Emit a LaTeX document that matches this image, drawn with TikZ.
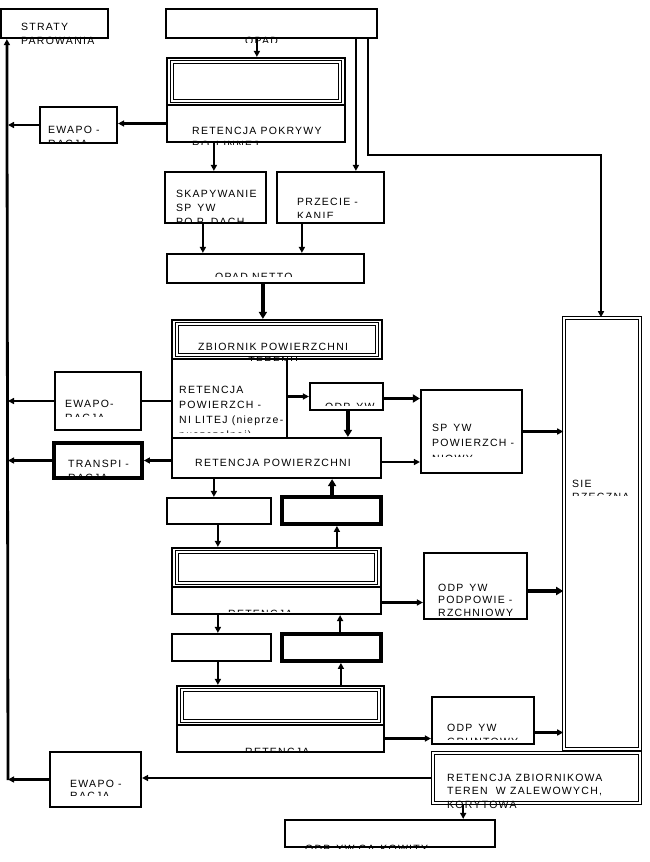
\documentclass[tikz,border=0pt]{standalone}
\usepackage{fontspec}
\setmainfont{Liberation Sans}[LetterSpace=12]
\usetikzlibrary{arrows.meta}

% text block, cut off below a given y
\newcommand\lbl[5][l]{%
  \begin{scope}
    \clip (0,0) rectangle (649,#4);
    \node[txt] (#2) at (#3) {\begin{tabular}[t]{@{}#1@{}}#5\end{tabular}};
  \end{scope}}

\begin{document}
\begin{tikzpicture}[x=1pt,y=-1pt,
    box/.style={draw, line width=2.2pt, inner sep=0pt},
    thickbox/.style={draw, line width=3.8pt, inner sep=0pt},
    dblbox/.style={draw, double, line width=1.6pt, double distance=1.5pt, inner sep=0pt},
    txt/.style={inner sep=0pt, anchor=base west, font=\fontsize{10.5}{14}\selectfont},
    arr/.style={line width=2.2pt, -{Triangle[length=6pt,width=6pt]}},
    fat/.style={line width=3.6pt, -{Triangle[length=7pt,width=8pt]}}]
\useasboundingbox (0,0) rectangle (649,862);

\foreach \nm/\xa/\ya/\xb/\yb in {strat/1/9/108/38, opad/166/9/377/38,
    pokrz/167/58/345/105, pokr/167/105/345/142, ewa1/40/107/117/143,
    skap/165/172/266/223, przec/277/172/384/223, netto/167/254/364/283,
    zbior/172/320/382/359, litej/172/359/287/438, odp1/310/383/383/410,
    splyw/421/390/522/473, retpow/172/438/381/478, ewa2/55/372/141/430,
    inf1/167/498/271/524, grz/172/548/381/587, grzr/172/587/381/614,
    odp2/424/553/527/619, inf2/172/634/271/661, gw/177/686/384/725,
    gwr/177/725/384/752, odp3/432/697/534/744, ewa3/50/752/141/807,
    total/285/820/495/847}
  \node[box, minimum width=\xb-\xa, minimum height=\yb-\ya] (\nm) at ({(\xa+\xb)/2},{(\ya+\yb)/2}) {};

\foreach \nm/\xa/\ya/\xb/\yb in {trans/54/443/142/478, kap1/282/497/381/524, kap2/282/634/381/661}
  \node[thickbox, minimum width=\xb-\xa, minimum height=\yb-\ya] (\nm) at ({(\xa+\xb)/2},{(\ya+\yb)/2}) {};

\foreach \nm/\xa/\ya/\xb/\yb in {sie/564/318/640/749, zb/433/753/640/803,
    pokri/172/62/340/101, zbiori/177/324/377/355, grzi/177/552/376/583, gwi/182/690/379/721}
  \node[dblbox, minimum width=\xb-\xa, minimum height=\yb-\ya] (\nm) at ({(\xa+\xb)/2},{(\ya+\yb)/2}) {};

% texts
\lbl{strat-t}{21,30}{45}{STRATY\\PAROWANIA}
\lbl{opad-t}{245,44.5}{42}{OPAD}
\lbl{pokr-t}{192,134}{144}{RETENCJA POKRYWY\\RO\phantom{Ś}LINNEJ}
\lbl{ewa1-t}{48,133}{143}{EWAPO -\\RACJA}
\lbl{skap-t}{176,197}{221}{SKAPYWANIE\\SP\phantom{Ł}YW\\PO P\phantom{Ę}DACH}
\lbl{przec-t}{297,205}{217}{PRZECIE -\\KANIE}
\lbl{netto-t}{215,280}{276}{OPAD NETTO}
\lbl[c]{zbior-t}{198,350}{360}{ZBIORNIK POWIERZCHNI\\TERENU}
\lbl{litej-t}{179,393}{432}{RETENCJA\\[1pt]POWIERZCH -\\[1pt]NI LITEJ (nieprze-\\[1pt]puszczalnej)}
\lbl{odp1-t}{325,410}{405.5}{ODP\phantom{Ł}YW}
\lbl{splyw-t}{432,431}{456}{SP\phantom{Ł}YW\\[1.5pt]POWIERZCH -\\[1.5pt]NIOWY}
\lbl{retpow-t}{195,466}{862}{RETENCJA POWIERZCHNI}
\lbl{ewa2-t}{65,407}{416}{EWAPO-\\RACJA}
\lbl{trans-t}{68,467}{477.5}{TRANSPI -\\RACJA}
\lbl{grzr-t}{228,617}{611}{RETENCJA}
\lbl{odp2-t}{438,591}{862}{ODP\phantom{Ł}YW\\[-1.5pt]PODPOWIE -\\[-1.5pt]RZCHNIOWY}
\lbl{odp3-t}{447,731}{739.5}{ODP\phantom{Ł}YW\\GRUNTOWY}
\lbl{sie-t}{572,487}{495.5}{SIE\phantom{Ć}\\[-1pt]RZECZNA}
\lbl{gwr-t}{245,755}{751}{RETENCJA}
\lbl{zb-t}{447,781}{862}{RETENCJA ZBIORNIKOWA\\[-0.5pt]TEREN\phantom{Ó}W ZALEWOWYCH,\\[-0.5pt]KORYTOWA}
\lbl{ewa3-t}{70,787}{795}{EWAPO -\\[-2pt]RACJA}
\lbl{total-t}{305,852}{848}{ODP\phantom{Ł}YW CA\phantom{Ł}KOWITY}

% connectors
\coordinate (lbot) at (8,780);
\coordinate (bend) at (601,155);
\draw[arr, line width=2.8pt] (lbot) -- ([xshift=7]strat.south west);
\draw[arr] ([xshift=92]opad.south west) -- ([xshift=92]opad.south west |- pokrz.north);
\draw[arr, line width=2.8pt] ([xshift=191]opad.south west) -- ([xshift=191]opad.south west |- przec.north);
\draw[arr] ([xshift=203]opad.south west) |- (bend) -- (bend |- sie.north);
\draw[arr] (pokr.west) -- (pokr.west -| ewa1.east);
\draw[arr] (ewa1.west) -- (ewa1.west -| lbot);
\draw[arr] ([xshift=48]pokr.south west) -- ([xshift=48]pokr.south west |- skap.north);
\draw[arr] ([xshift=39]skap.south west) -- ([xshift=39]skap.south west |- netto.north);
\draw[arr] ([xshift=26]przec.south west) -- ([xshift=26]przec.south west |- netto.north);
\draw[fat] ([xshift=97]netto.south west) -- ([xshift=97]netto.south west |- zbior.north);
\draw[arr] (odp1.west -| litej.east) -- (odp1.west);
\draw[fat] ([yshift=-2]odp1.east) -- ([yshift=-2]odp1.east -| splyw.west);
\draw[fat] ([xshift=39]odp1.south west) -- ([xshift=39]odp1.south west |- retpow.north);
\draw[arr] (splyw.east) -- (splyw.east -| sie.west);
\draw[arr] ([yshift=-4]retpow.east) -- ([yshift=-4]retpow.east -| splyw.west);
\draw[line width=2.2pt] (ewa2.east) -- (ewa2.east -| litej.west);
\draw[arr] (ewa2.west) -- (ewa2.west -| lbot);
\draw[arr] (trans.east -| retpow.west) -- (trans.east);
\draw[arr] (trans.west) -- (trans.west -| lbot);
\draw[arr] ([xshift=43]retpow.south west) -- ([xshift=43]retpow.south west |- inf1.north);
\draw[fat] ([xshift=52]kap1.north west) -- ([xshift=52]kap1.north west |- retpow.south);
\draw[arr] ([xshift=52]inf1.south west) -- ([xshift=52]inf1.south west |- grz.north);
\draw[arr] ([xshift=166]grz.north west) -- ([xshift=166]grz.north west |- kap1.south);
\draw[arr] ([yshift=-2]grzr.east) -- ([yshift=-2]grzr.east -| odp2.west);
\draw[arr] ([xshift=47]grzr.south west) -- ([xshift=47]grzr.south west |- inf2.north);
\draw[arr] ([xshift=60]kap2.north west) -- ([xshift=60]kap2.north west |- grzr.south);
\draw[arr] ([xshift=47]inf2.south west) -- ([xshift=47]inf2.south west |- gw.north);
\draw[arr] ([xshift=165]gw.north west) -- ([xshift=165]gw.north west |- kap2.south);
\draw[arr] (gwr.east) -- (gwr.east -| odp3.west);
\draw[fat] ([yshift=-5]odp2.east) -- ([yshift=-5]odp2.east -| sie.west);
\draw[arr] ([yshift=-12]odp3.east) -- ([yshift=-12]odp3.east -| sie.west);
\draw[arr] (zb.west) -- (zb.west -| ewa3.east);
\draw[arr] (ewa3.west) -- (ewa3.west -| lbot);
\draw[arr] ([xshift=31]zb.south west) -- ([xshift=31]zb.south west |- total.north);
\end{tikzpicture}
\end{document}
